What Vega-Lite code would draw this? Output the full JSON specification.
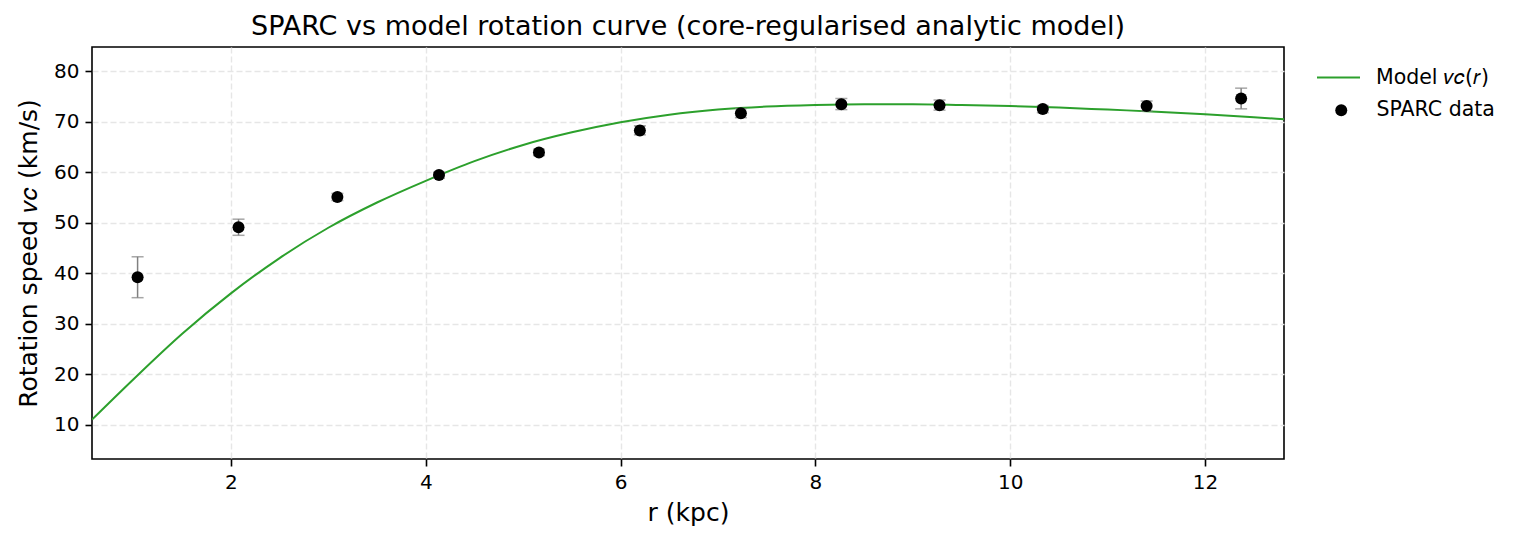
{
  "$schema": "https://vega.github.io/schema/vega-lite/v6.json",
  "width": 1192,
  "height": 412,
  "autosize": {"type": "none"},
  "padding": {"left": 92, "top": 47, "right": 233, "bottom": 83},
  "background": "white",
  "title": {
    "text": "SPARC vs model rotation curve (core-regularised analytic model)",
    "fontSize": 27,
    "fontWeight": "normal",
    "font": "DejaVu Sans",
    "color": "black",
    "anchor": "middle",
    "offset": 6
  },
  "datasets": {
    "model": [
      {"r": 0.574, "v": 11.0},
      {"r": 1.0, "v": 19.0},
      {"r": 1.5, "v": 28.0},
      {"r": 2.0, "v": 36.0},
      {"r": 2.5, "v": 43.0},
      {"r": 3.0, "v": 49.0},
      {"r": 3.5, "v": 54.0},
      {"r": 4.0, "v": 58.3},
      {"r": 4.5, "v": 62.2},
      {"r": 5.0, "v": 65.4},
      {"r": 5.5, "v": 67.9},
      {"r": 6.0, "v": 69.9},
      {"r": 6.5, "v": 71.4},
      {"r": 7.0, "v": 72.4},
      {"r": 7.5, "v": 73.0},
      {"r": 8.0, "v": 73.3},
      {"r": 8.5, "v": 73.45},
      {"r": 9.0, "v": 73.45},
      {"r": 9.5, "v": 73.3},
      {"r": 10.0, "v": 73.1},
      {"r": 10.5, "v": 72.8},
      {"r": 11.0, "v": 72.4},
      {"r": 11.5, "v": 72.0},
      {"r": 12.0, "v": 71.5},
      {"r": 12.5, "v": 70.9},
      {"r": 12.81, "v": 70.5}
    ],
    "sparc": [
      {"r": 1.042, "v": 39.2, "lo": 35.15, "hi": 43.25},
      {"r": 2.078, "v": 49.1, "lo": 47.5, "hi": 50.7},
      {"r": 3.093, "v": 55.08, "lo": 54.4, "hi": 55.8},
      {"r": 4.136, "v": 59.43, "lo": 58.8, "hi": 60.0},
      {"r": 5.162, "v": 63.92, "lo": 63.3, "hi": 64.5},
      {"r": 6.198, "v": 68.27, "lo": 67.4, "hi": 69.2},
      {"r": 7.235, "v": 71.7, "lo": 70.8, "hi": 72.6},
      {"r": 8.266, "v": 73.47, "lo": 72.4, "hi": 74.6},
      {"r": 9.274, "v": 73.28, "lo": 72.3, "hi": 74.3},
      {"r": 10.334, "v": 72.5, "lo": 71.8, "hi": 73.2},
      {"r": 11.40, "v": 73.1, "lo": 72.1, "hi": 74.1},
      {"r": 12.37, "v": 74.6, "lo": 72.55, "hi": 76.65}
    ]
  },
  "layer": [
    {
      "data": {"name": "model"},
      "mark": {"type": "line", "strokeWidth": 2, "interpolate": "monotone", "clip": true},
      "encoding": {
        "x": {"field": "r", "type": "quantitative", "title": "r (kpc)",
              "scale": {"domain": [0.574, 12.81], "nice": false, "zero": false},
              "axis": {"values": [2, 4, 6, 8, 10, 12], "format": "d"}},
        "y": {"field": "v", "type": "quantitative", "title": "Rotation speed 𝑣𝑐 (km/s)",
              "scale": {"domain": [3.2, 84.8], "nice": false, "zero": false},
              "axis": {"values": [10, 20, 30, 40, 50, 60, 70, 80], "format": "d"}},
        "color": {"datum": "Model 𝑣𝑐(𝑟)", "type": "nominal",
                  "scale": {"range": ["#2ca02c"]},
                  "legend": {"orient": "none", "legendX": 1224, "legendY": 8, "title": null,
                             "symbolType": "stroke", "symbolSize": 1849, "symbolStrokeWidth": 2,
                             "labelOffset": 15, "padding": 0}}
      }
    },
    {
      "data": {"name": "sparc"},
      "mark": {"type": "errorbar", "color": "#808080", "thickness": 1.5, "ticks": {"size": 12}, "clip": true},
      "encoding": {
        "x": {"field": "r", "type": "quantitative", "title": "r (kpc)"},
        "y": {"field": "lo", "type": "quantitative", "title": "Rotation speed 𝑣𝑐 (km/s)"},
        "y2": {"field": "hi"}
      }
    },
    {
      "data": {"name": "sparc"},
      "mark": {"type": "point", "filled": true, "size": 144, "color": "black", "opacity": 1},
      "encoding": {
        "x": {"field": "r", "type": "quantitative", "title": "r (kpc)"},
        "y": {"field": "v", "type": "quantitative", "title": "Rotation speed 𝑣𝑐 (km/s)"},
        "shape": {"datum": "SPARC data", "type": "nominal",
                  "scale": {"range": ["circle"]},
                  "legend": {"orient": "none", "legendX": 1239, "legendY": 53, "title": null,
                             "symbolSize": 144, "symbolFillColor": "black", "symbolStrokeColor": "black",
                             "labelOffset": 25, "padding": 0}}
      }
    }
  ],
  "config": {
    "font": "DejaVu Sans",
    "view": {"stroke": "black", "strokeWidth": 1.6},
    "axis": {
      "domain": false,
      "grid": true,
      "gridColor": "#e6e6e6",
      "gridDash": [6, 3],
      "gridWidth": 1.4,
      "ticks": true,
      "tickColor": "black",
      "tickSize": 7,
      "tickWidth": 1.6,
      "labelFontSize": 20,
      "labelColor": "black",
      "labelPadding": 6,
      "titleFontSize": 25,
      "titleFontWeight": "normal",
      "titleColor": "black"
    },
    "axisX": {"titlePadding": 8},
    "axisY": {"titlePadding": 12},
    "legend": {"labelFontSize": 20.5, "labelColor": "black", "labelFont": "DejaVu Sans"}
  }
}
